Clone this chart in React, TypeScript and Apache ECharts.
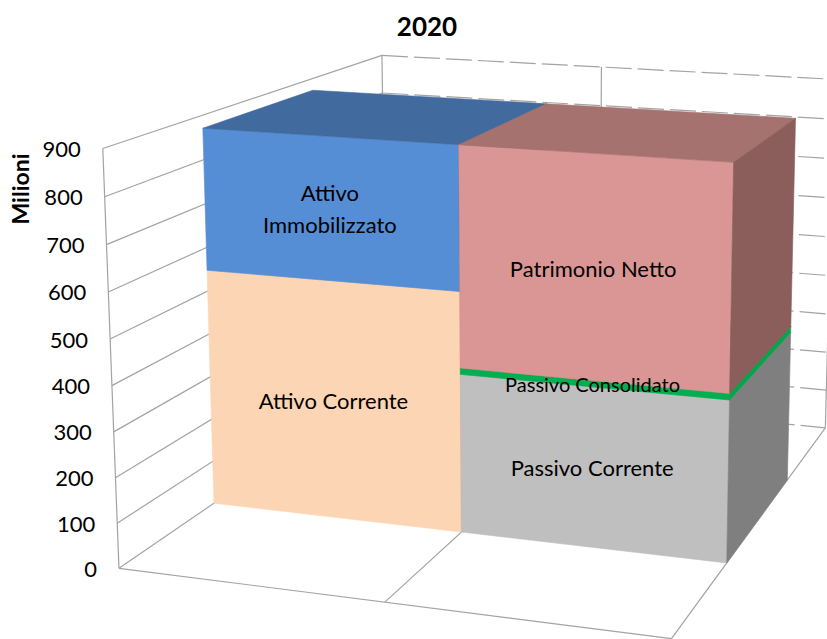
import React, { useEffect, useRef } from 'react';
import * as echarts from 'echarts';

// ---------- data ----------
const chartTitle = '2020';
const yAxisName = 'Milioni';
const categories = ['Attivo', 'Passivo'];
const attivoNames = ['Attivo Corrente', 'Attivo Immobilizzato'];
const attivoValues = [548, 323];
const passivoNames = ['Passivo Corrente', 'Passivo Consolidato', 'Patrimonio Netto'];
const passivoValues = [362, 14, 495];
const yTicks = [0, 100, 200, 300, 400, 500, 600, 700, 800, 900];
const Y_MAX = 900;

// ---------- styles ----------
const FONT = 'Lato, "Open Sans", sans-serif';
const GRID = '#A3A3A3';
const labelText: Record<string, string> = { 'Attivo Immobilizzato': 'Attivo\nImmobilizzato' };
const SEG_STYLE: Record<string, { front: string; top: string; side: string; fontSize: number }> = {
  'Attivo Corrente': { front: '#FCD5B5', top: '#E9BE9B', side: '#D8AA86', fontSize: 22 },
  'Attivo Immobilizzato': { front: '#558ED5', top: '#416A9F', side: '#3B5F8F', fontSize: 22 },
  'Passivo Corrente': { front: '#BFBFBF', top: '#A3A3A3', side: '#7F7F7F', fontSize: 22 },
  'Passivo Consolidato': { front: '#00B050', top: '#00A048', side: '#00A84C', fontSize: 20 },
  'Patrimonio Netto': { front: '#D99694', top: '#A5726F', side: '#8B5E5C', fontSize: 22 },
};
const Z_FRONT = 0.3;
const Z_BACK = 0.7;

// ---------- 3D view: camera calibrated on the chart frame (walls / floor) ----------
// [X (category units), Y (fraction of axis), Z (depth), screen x, screen y]
const FRAME_CAL: number[][] = [
  [0, 0, 0, 120, 568],
  [1, 0, 0, 385, 602],
  [2, 0, 0, 673, 638],
  [0, 1, 0, 102, 150],
  [0, 0.5556, 0, 110, 338],
  [0, 1, 1, 383, 55],
  [2, 0, 1, 825, 428],
  [2, 1, 1, 834, 79],
  [1, 0, 1, 600, 406],
  [0, 0, 0.3, 213, 503],
  [1, 0, 0.3, 460, 533],
  [2, 0, 0.3, 727, 563],
  [2, 0, 0.7, 787, 480],
];

function fitCamera(cal: number[][]): number[] {
  const n = 11;
  const M = Array.from({ length: n }, () => new Array(n).fill(0));
  const r = new Array(n).fill(0);
  const add = (row: number[], b: number) => {
    for (let i = 0; i < n; i++) {
      for (let j = 0; j < n; j++) M[i][j] += row[i] * row[j];
      r[i] += row[i] * b;
    }
  };
  for (const [X, Y, Z, u0, v0] of cal) {
    const u = u0 / 100, v = v0 / 100;
    add([X, Y, Z, 1, 0, 0, 0, 0, -u * X, -u * Y, -u * Z], u);
    add([0, 0, 0, 0, X, Y, Z, 1, -v * X, -v * Y, -v * Z], v);
  }
  for (let c = 0; c < n; c++) {
    let p = c;
    for (let i = c + 1; i < n; i++) if (Math.abs(M[i][c]) > Math.abs(M[p][c])) p = i;
    [M[c], M[p]] = [M[p], M[c]];
    [r[c], r[p]] = [r[p], r[c]];
    for (let i = 0; i < n; i++) {
      if (i === c) continue;
      const f = M[i][c] / M[c][c];
      for (let j = c; j < n; j++) M[i][j] -= f * M[c][j];
      r[i] -= f * r[c];
    }
  }
  return r.map((x, i) => x / M[i][i]);
}
const CAM = fitCamera(FRAME_CAL);
function project(X: number, Y: number, Z: number): number[] {
  const w = CAM[8] * X + CAM[9] * Y + CAM[10] * Z + 1;
  return [
    ((CAM[0] * X + CAM[1] * Y + CAM[2] * Z + CAM[3]) / w) * 100,
    ((CAM[4] * X + CAM[5] * Y + CAM[6] * Z + CAM[7]) / w) * 100,
  ];
}

export default function App() {
  const ref = useRef<HTMLDivElement>(null);
  useEffect(() => {
    if (!ref.current) return;
    const chart = echarts.init(ref.current, undefined, { renderer: 'svg' });
    const NX = categories.length;

    const segNames: string[] = [];
    const segData: number[][] = [];
    let acc = 0;
    attivoValues.forEach((v, i) => {
      segNames.push(attivoNames[i]);
      segData.push([0, acc, acc + v]);
      acc += v;
    });
    acc = 0;
    passivoValues.forEach((v, i) => {
      segNames.push(passivoNames[i]);
      segData.push([1, acc, acc + v]);
      acc += v;
    });

    const norm = (api: any, cat: number, v: number) => {
      const y0 = api.coord([cat, 0])[1];
      const y1 = api.coord([cat, Y_MAX])[1];
      return (y0 - api.coord([cat, v])[1]) / (y0 - y1);
    };
    const line = (a: number[], b: number[], dash?: number[]) => ({
      type: 'line',
      shape: { x1: a[0], y1: a[1], x2: b[0], y2: b[1] },
      style: { stroke: GRID, lineWidth: 1.2, lineDash: dash },
    });
    const poly = (points: number[][], fill: string) => ({
      type: 'polygon',
      shape: { points },
      style: { fill, stroke: fill, lineWidth: 0.6 },
    });

    const option: any = {
      animation: false,
      backgroundColor: '#ffffff',
      grid: { left: 105, right: 100, top: 150, bottom: 72 },
      xAxis: { type: 'category', data: categories, show: false },
      yAxis: { type: 'value', min: 0, max: Y_MAX, interval: 100, show: false },
      graphic: [
        {
          type: 'text', x: 427, y: 26, silent: true,
          style: { text: chartTitle, fontSize: 26, fontWeight: 'bold', fontFamily: FONT, fill: '#000', align: 'center', verticalAlign: 'middle' },
        },
        {
          type: 'text', x: 20, y: 189, rotation: Math.PI / 2, silent: true,
          style: { text: yAxisName, fontSize: 23, fontWeight: 'bold', fontFamily: FONT, fill: '#000', align: 'center', verticalAlign: 'middle' },
        },
      ],
      series: [
        {
          type: 'custom', z: 1, silent: true,
          data: yTicks.map((t) => [0, t]),
          renderItem: (params: any, api: any) => {
            const v = api.value(1) as number;
            const yn = norm(api, 0, v);
            const children: any[] = [
              line(project(0, yn, 0), project(0, yn, 1)),
              line(project(0, yn, 1), project(NX, yn, 1), [26, 6]),
            ];
            const lp = project(0, yn, 0);
            children.push({
              type: 'text', x: lp[0] - 22, y: lp[1],
              style: { text: String(v), fontSize: 22, fontFamily: FONT, fill: '#000', align: 'right', verticalAlign: 'middle' },
            });
            if (params.dataIndex === 0) {
              children.push(line(project(0, 0, 0), project(0, 1, 0)));
              children.push(line(project(0, 0, 1), project(0, 1, 1)));
              children.push(line(project(NX, 0, 1), project(NX, 1, 1)));
              children.push(line(project(0, 0, 0), project(NX, 0, 0)));
              children.push(line(project(NX, 0, 0), project(NX, 0, 1)));
              for (let c = 1; c < NX; c++) {
                children.push(line(project(c, 0, 0), project(c, 0, 1)));
                children.push(line(project(c, 0, 1), project(c, 1, 1)));
              }
            }
            return { type: 'group', children };
          },
        },
        {
          type: 'custom', z: 2, silent: true,
          data: segData,
          renderItem: (params: any, api: any) => {
            const cat = api.value(0) as number;
            const b = norm(api, cat, api.value(1) as number);
            const t = norm(api, cat, api.value(2) as number);
            const st = SEG_STYLE[segNames[params.dataIndex]];
            const X0 = cat, X1 = cat + 1;
            const front = [project(X0, b, Z_FRONT), project(X1, b, Z_FRONT), project(X1, t, Z_FRONT), project(X0, t, Z_FRONT)];
            const top = [project(X0, t, Z_FRONT), project(X1, t, Z_FRONT), project(X1, t, Z_BACK), project(X0, t, Z_BACK)];
            const side = [project(X1, b, Z_FRONT), project(X1, b, Z_BACK), project(X1, t, Z_BACK), project(X1, t, Z_FRONT)];
            return { type: 'group', children: [poly(front, st.front), poly(top, st.top), poly(side, st.side)] };
          },
        },
        {
          type: 'custom', z: 3, silent: true,
          data: segData,
          renderItem: (params: any, api: any) => {
            const cat = api.value(0) as number;
            const b = norm(api, cat, api.value(1) as number);
            const t = norm(api, cat, api.value(2) as number);
            const name = segNames[params.dataIndex];
            const st = SEG_STYLE[name];
            const c = project(cat + 0.5, (b + t) / 2, Z_FRONT);
            return {
              type: 'text', x: c[0], y: c[1],
              style: {
                text: labelText[name] ?? name, fill: '#000', fontSize: st.fontSize, fontFamily: FONT,
                align: 'center', verticalAlign: 'middle', lineHeight: 32,
              },
            };
          },
        },
      ],
    };
    chart.setOption(option);
    return () => chart.dispose();
  }, []);
  return (
    <div
      ref={ref}
      style={{ position: 'fixed', left: 0, top: 0, width: 827, height: 639, background: '#fff' }}
    />
  );
}
